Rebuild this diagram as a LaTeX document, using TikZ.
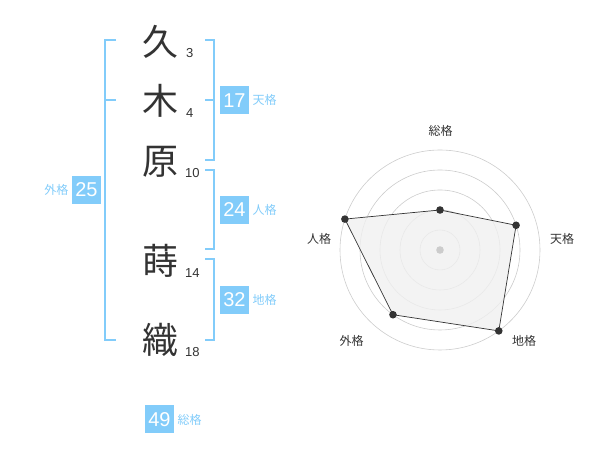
\documentclass[tikz,border=0pt]{standalone}
\usepackage{fontspec}
\setmainfont{Liberation Sans}
\newfontfamily\jp{Noto Sans CJK JP}
\usetikzlibrary{calc}
\definecolor{kakublue}{RGB}{130,204,250}
\definecolor{ink}{RGB}{51,51,51}
\definecolor{ring}{RGB}{204,204,204}

\begin{document}
\begin{tikzpicture}[x=1pt,y=1pt]
	\useasboundingbox (0,0) rectangle (600,470);

	% name characters and strokes
	\node[text=ink,font=\jp\fontsize{36}{36}\selectfont] (k1) at (160,428.3) {久};
	\node[text=ink,font=\jp\fontsize{36}{36}\selectfont] (k2) at (160,369.3) {木};
	\node[text=ink,font=\jp\fontsize{36}{36}\selectfont] (k3) at (160,308.3) {原};
	\node[text=ink,font=\jp\fontsize{36}{36}\selectfont] (k4) at (160,209.3) {蒔};
	\node[text=ink,font=\jp\fontsize{36}{36}\selectfont] (k5) at (160,130) {織};
	\node[text=ink,font=\fontsize{13}{13}\selectfont,anchor=west,inner sep=0] (s1) at (186,417.3) {3};
	\node[text=ink,font=\fontsize{13}{13}\selectfont,anchor=west,inner sep=0] (s2) at (186,356.7) {4};
	\node[text=ink,font=\fontsize{13}{13}\selectfont,anchor=west,inner sep=0] (s3) at (185,297.3) {10};
	\node[text=ink,font=\fontsize{13}{13}\selectfont,anchor=west,inner sep=0] (s4) at (185,197.3) {14};
	\node[text=ink,font=\fontsize{13}{13}\selectfont,anchor=west,inner sep=0] (s5) at (185,118.3) {18};

	% brackets
	\path[draw=kakublue,line width=2pt] (116,430) -- (105,430) -- (105,130) -- (116,130);
	\path[draw=kakublue,line width=2pt] (105,370) -- (116,370);
	\path[draw=kakublue,line width=2pt] (205,430) -- (214,430) -- (214,310) -- (205,310);
	\path[draw=kakublue,line width=2pt] (205,370) -- (214,370);
	\path[draw=kakublue,line width=2pt] (205,300) -- (214,300) -- (214,220.7) -- (205,220.7);
	\path[draw=kakublue,line width=2pt] (205,210.7) -- (214,210.7) -- (214,130) -- (205,130);

	% boxes and labels
	\node[fill=kakublue,text=white,minimum width=29pt,minimum height=28pt,inner sep=0,font=\fontsize{20}{20}\selectfont] (ten) at (234.5,369.8) {17};
	\node[fill=kakublue,text=white,minimum width=29pt,minimum height=28pt,inner sep=0,font=\fontsize{20}{20}\selectfont] (jin) at (234.5,260) {24};
	\node[fill=kakublue,text=white,minimum width=29pt,minimum height=28pt,inner sep=0,font=\fontsize{20}{20}\selectfont] (chi) at (234.5,170) {32};
	\node[fill=kakublue,text=white,minimum width=29pt,minimum height=28pt,inner sep=0,font=\fontsize{20}{20}\selectfont] (gai) at (86.5,280) {25};
	\node[fill=kakublue,text=white,minimum width=29pt,minimum height=28pt,inner sep=0,font=\fontsize{20}{20}\selectfont] (sou) at (159.5,50.5) {49};
	\node[text=kakublue,font=\jp\fontsize{12}{12}\selectfont,anchor=west] (tenl) at (ten.east) {天格};
	\node[text=kakublue,font=\jp\fontsize{12}{12}\selectfont,anchor=west] (jinl) at (jin.east) {人格};
	\node[text=kakublue,font=\jp\fontsize{12}{12}\selectfont,anchor=west] (chil) at (chi.east) {地格};
	\node[text=kakublue,font=\jp\fontsize{12}{12}\selectfont,anchor=east] (gail) at (gai.west) {外格};
	\node[text=kakublue,font=\jp\fontsize{12}{12}\selectfont,anchor=west] (soul) at (sou.east) {総格};

	% radar chart
	\coordinate (o) at (440,220);
	\foreach \r in {20,40,60,80,100}
		\path[draw=ring,line width=0.6pt] (o) circle (\r);
	\coordinate (p1) at ($(o)+(90:40)$);
	\coordinate (p2) at ($(o)+(18:80)$);
	\coordinate (p3) at ($(o)+(-54:100)$);
	\coordinate (p4) at ($(o)+(-126:80)$);
	\coordinate (p5) at ($(o)+(162:100)$);
	\path[fill=black!6,fill opacity=0.8,draw=ink,line width=0.7pt] (p1) -- (p2) -- (p3) -- (p4) -- (p5) -- cycle;
	\foreach \p in {p1,p2,p3,p4,p5}
		\path[fill=ink] (\p) circle (3.8);
	\path[fill=ring] (o) circle (3.8);
	\node[text=ink,font=\jp\fontsize{12}{12}\selectfont] (l1) at ($(o)+(0.7,119.3)$) {総格};
	\node[text=ink,font=\jp\fontsize{12}{12}\selectfont] (l2) at ($(o)+(122,11.3)$) {天格};
	\node[text=ink,font=\jp\fontsize{12}{12}\selectfont] (l3) at ($(o)+(84,-91)$) {地格};
	\node[text=ink,font=\jp\fontsize{12}{12}\selectfont] (l4) at ($(o)+(-88.3,-91)$) {外格};
	\node[text=ink,font=\jp\fontsize{12}{12}\selectfont] (l5) at ($(o)+(-121,11.3)$) {人格};

\end{tikzpicture}
\end{document}
